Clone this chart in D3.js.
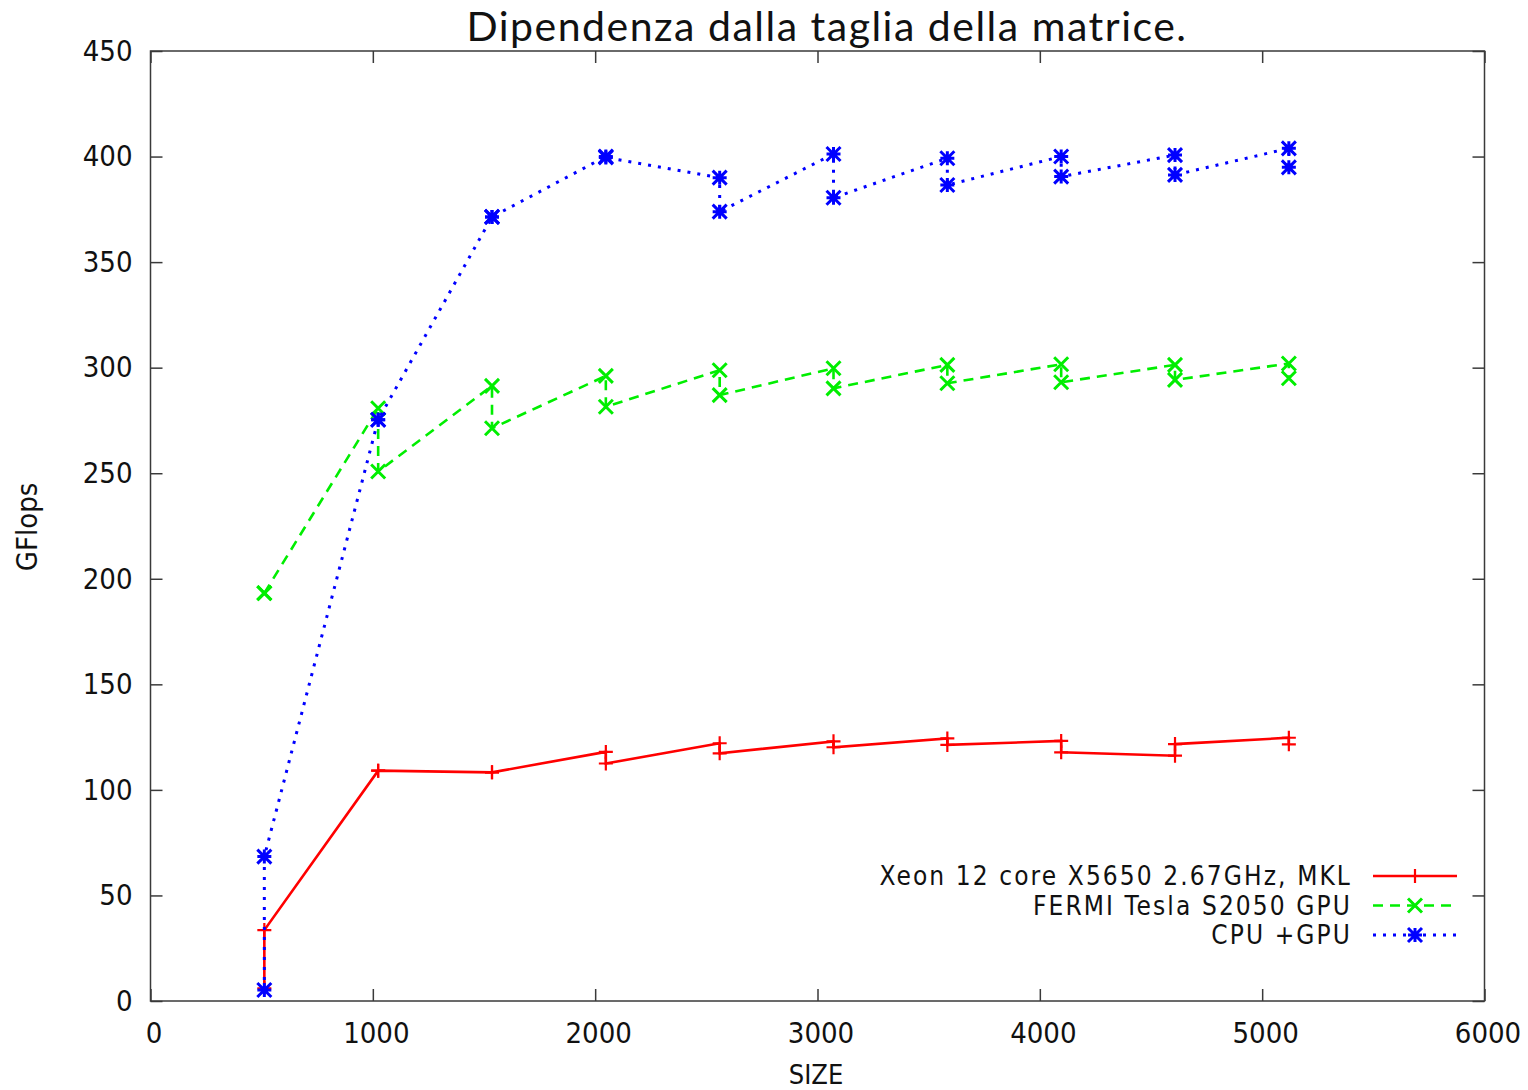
<!DOCTYPE html>
<head>
    <meta charset="utf-8">
    <script src="https://cdnjs.cloudflare.com/ajax/libs/d3/7.9.0/d3.js"></script>
    <style>
        body { margin: 0; background: #fff; }
        text { fill: #111; }
    </style>
</head>
<body>
    <div id="chart"></div>
</body>
<script>

// matrix sizes on the x axis
const sizes = [512, 1024, 1536, 2048, 2560, 3072, 3584, 4096, 4608, 5120]

// two runs per size, the line joins run1 -> run2 -> next size run1 ...
const xeonRun1 = [6, 109.1, 108.3, 118.0, 122.1, 123.0, 124.4, 123.2, 116.2, 124.7]
const xeonRun2 = [33.6, 109.1, 108.3, 112.5, 117.3, 120.2, 121.3, 117.8, 121.7, 121.6]
const fermiRun1 = [193.2, 280.8, 291.4, 296.1, 298.8, 299.7, 301.3, 301.6, 301.3, 302.0]
const fermiRun2 = [193.2, 250.8, 271.3, 281.5, 287.0, 290.2, 292.6, 293.1, 294.2, 295.0]
const hybridRun1 = [5.2, 275.3, 371.4, 400.0, 390.0, 401.2, 399.2, 400.0, 400.7, 403.9]
const hybridRun2 = [68.4, 275.3, 371.4, 399.6, 373.9, 380.5, 386.5, 390.5, 391.3, 394.9]

const seriesNames = ["Xeon 12 core X5650 2.67GHz, MKL", "FERMI Tesla S2050 GPU", "CPU +GPU"]

const xTicks = [0, 1000, 2000, 3000, 4000, 5000, 6000]
const yTicks = [0, 50, 100, 150, 200, 250, 300, 350, 400, 450]

const title = "Dipendenza dalla taglia della matrice."
const xLabel = "SIZE"
const yLabel = "GFlops"

// set the dimensions

const width = 1528
const height = 1090
const plot = {left: 150.5, right: 1484.5, top: 51, bottom: 1001}
const tickFont = "'DejaVu Sans Condensed', 'Liberation Sans Narrow', 'DejaVu Sans', sans-serif"

const svg = d3.select("#chart")
    .append("svg")
    .attr("width", width)
    .attr("height", height)

const x = d3.scaleLinear().domain([0, 6000]).range([plot.left, plot.right])
const y = d3.scaleLinear().domain([0, 450]).range([plot.bottom, plot.top])

// axes, ticks pointing inward and mirrored

const axisColor = "#3a3a3a"

function styleAxis(g) {
    g.select(".domain").remove()
    g.selectAll(".tick line").attr("stroke", axisColor).attr("stroke-width", 1.5)
    g.selectAll(".tick text")
        .attr("font-family", tickFont)
        .attr("font-size", 29)
        .attr("fill", "#111")
}

svg.append("g")
    .attr("transform", `translate(0, ${plot.bottom})`)
    .call(d3.axisBottom(x).tickValues(xTicks).tickSize(-12).tickPadding(21).tickFormat(d3.format("d")))
    .call(styleAxis)
    .selectAll(".tick text").attr("dx", 3)

svg.append("g")
    .attr("transform", `translate(0, ${plot.top})`)
    .call(d3.axisTop(x).tickValues(xTicks).tickSize(-12).tickFormat(""))
    .call(styleAxis)

svg.append("g")
    .attr("transform", `translate(${plot.left}, 0)`)
    .call(d3.axisLeft(y).tickValues(yTicks).tickSize(-12).tickPadding(18))
    .call(styleAxis)

svg.append("g")
    .attr("transform", `translate(${plot.right}, 0)`)
    .call(d3.axisRight(y).tickValues(yTicks).tickSize(-12).tickFormat(""))
    .call(styleAxis)

// border box
svg.append("rect")
    .attr("x", plot.left)
    .attr("y", plot.top)
    .attr("width", plot.right - plot.left)
    .attr("height", plot.bottom - plot.top)
    .attr("fill", "none")
    .attr("stroke", axisColor)
    .attr("stroke-width", 1.5)

// title and axis labels

svg.append("text")
    .attr("x", 827)
    .attr("y", 41)
    .attr("text-anchor", "middle")
    .attr("font-family", "Lato, 'Open Sans', sans-serif")
    .attr("font-size", 41)
    .attr("letter-spacing", 1.5)
    .text(title)

svg.append("text")
    .attr("x", 816)
    .attr("y", 1084)
    .attr("text-anchor", "middle")
    .attr("font-family", tickFont)
    .attr("font-size", 27)
    .text(xLabel)

svg.append("text")
    .attr("transform", "translate(37, 527) rotate(-90)")
    .attr("text-anchor", "middle")
    .attr("font-family", tickFont)
    .attr("font-size", 29)
    .text(yLabel)

// build the point sequences

function sequence(run1, run2) {
    let pts = []
    sizes.forEach((s, i) => {
        pts.push({size: s, value: run1[i]})
        pts.push({size: s, value: run2[i]})
    })
    return pts
}

const series = [
    {name: seriesNames[0], color: "#ff0000", dash: null, marker: "plus", points: sequence(xeonRun1, xeonRun2)},
    {name: seriesNames[1], color: "#00ee00", dash: "10,7", marker: "cross", points: sequence(fermiRun1, fermiRun2)},
    {name: seriesNames[2], color: "#0000ff", dash: "3,7", marker: "star", points: sequence(hybridRun1, hybridRun2)}
]

const line = d3.line()
    .x(d => x(d.size))
    .y(d => y(d.value))

// marker path shapes
function markerPath(type, r) {
    const plus = `M${-r},0H${r}M0,${-r}V${r}`
    const cross = `M${-r},${-r}L${r},${r}M${-r},${r}L${r},${-r}`
    if (type === "plus") return plus
    if (type === "cross") return cross
    return plus + cross
}

const markerSize = {plus: 7, cross: 7, star: 7}

series.forEach(s => {
    svg.append("path")
        .datum(s.points)
        .attr("fill", "none")
        .attr("stroke", s.color)
        .attr("stroke-width", s.marker === "star" ? 3 : 2.6)
        .attr("stroke-dasharray", s.dash)
        .attr("d", line)

    svg.append("g")
        .selectAll("path")
        .data(s.points)
        .join("path")
        .attr("transform", d => `translate(${x(d.size)},${y(d.value)})`)
        .attr("d", markerPath(s.marker, markerSize[s.marker]))
        .attr("fill", "none")
        .attr("stroke", s.color)
        .attr("stroke-width", s.marker === "plus" ? 2.2 : 3)
})

// legend

const legend = svg.append("g")
    .selectAll("g")
    .data(series)
    .join("g")
    .attr("transform", (d, i) => `translate(0, ${876 + i * 29.5})`)

legend.append("text")
    .attr("x", 1352)
    .attr("y", 0)
    .attr("dy", "0.36em")
    .attr("text-anchor", "end")
    .attr("font-family", tickFont)
    .attr("font-size", 26)
    .attr("letter-spacing", 2.1)
    .text(d => d.name)

legend.append("line")
    .attr("x1", 1373)
    .attr("x2", 1457)
    .attr("stroke", d => d.color)
    .attr("stroke-width", d => d.marker === "star" ? 3 : 2.6)
    .attr("stroke-dasharray", d => d.dash)

legend.append("path")
    .attr("transform", "translate(1415, 0)")
    .attr("d", d => markerPath(d.marker, markerSize[d.marker]))
    .attr("fill", "none")
    .attr("stroke", d => d.color)
    .attr("stroke-width", d => d.marker === "plus" ? 2.2 : 3)

</script>
